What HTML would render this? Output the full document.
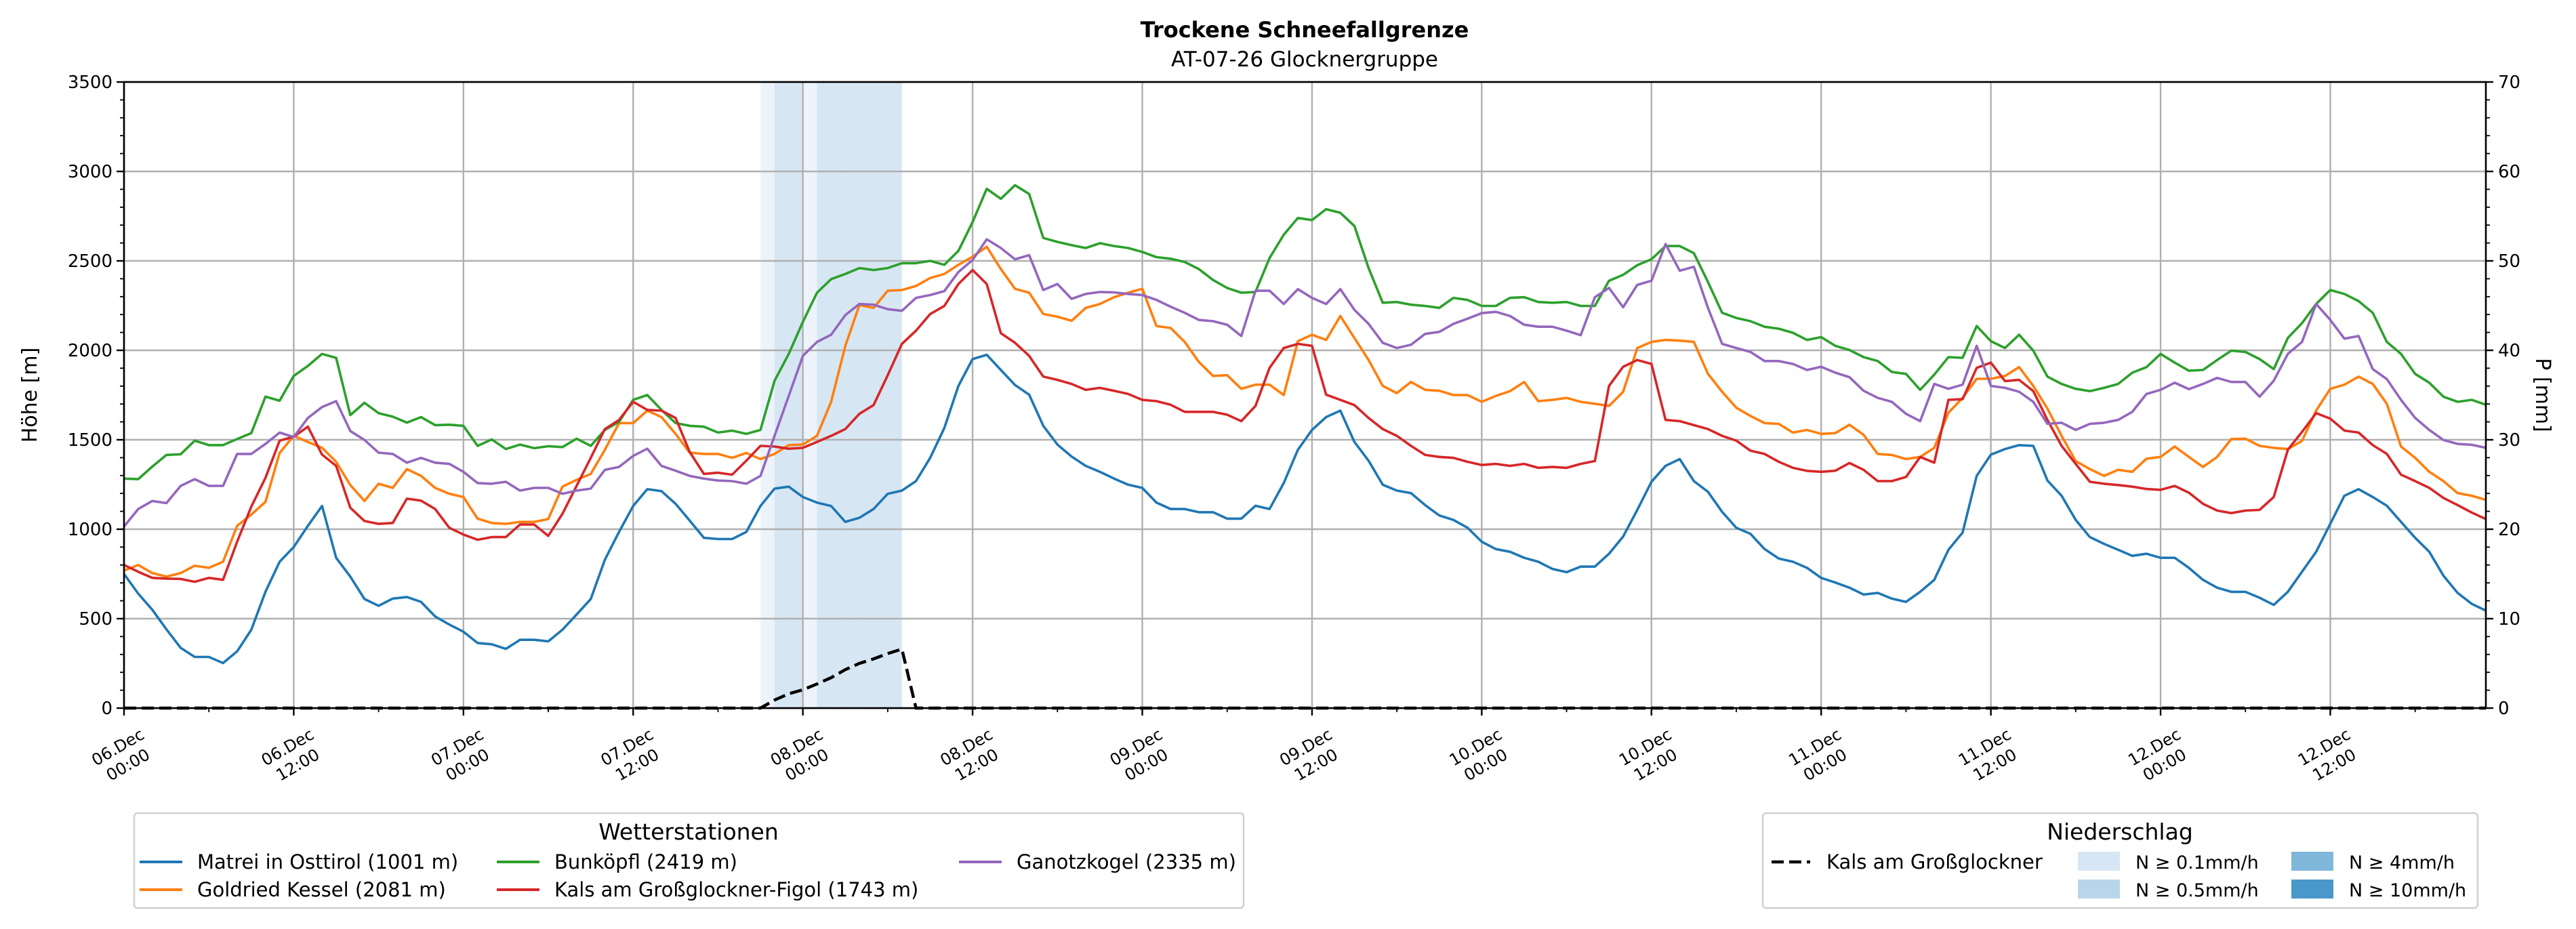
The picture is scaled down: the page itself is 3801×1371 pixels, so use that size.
<!DOCTYPE html>
<html><head><meta charset="utf-8">
<style>
body{margin:0;background:#fff;}
svg{display:block;font-family:"DejaVu Sans","Liberation Sans",sans-serif;}
</style></head>
<body>
<svg id="chart" width="3801" height="1371" viewBox="0 0 3801 1371" xmlns="http://www.w3.org/2000/svg">
<rect width="3801" height="1371" fill="#fff"/>
<text x="1925" y="55" text-anchor="middle" font-size="32" font-weight="bold">Trockene Schneefallgrenze</text>
<text x="1925" y="98" text-anchor="middle" font-size="31">AT-07-26 Glocknergruppe</text>
<g id="shade"></g><g id="grid"></g><g id="series"></g><g id="axes"></g><g id="legend"></g>
</svg>
<script>
const hours = Array.from({length:168},(_,i)=>i);
const matrei = [750,640,550,440,337,286,286,252,317,438,650,818,900,1019,1130,840,735,610,572,612,621,594,512,467,427,364,357,331,382,382,373,438,523,610,829,985,1130,1224,1213,1142,1048,952,945,945,985,1130,1227,1238,1180,1149,1130,1041,1064,1113,1198,1216,1269,1399,1566,1801,1951,1975,1890,1806,1752,1578,1473,1406,1354,1321,1283,1249,1231,1149,1113,1113,1095,1095,1059,1059,1131,1113,1258,1444,1555,1627,1663,1488,1383,1249,1216,1202,1135,1077,1052,1008,930,889,874,840,818,778,760,791,791,863,959,1108,1265,1354,1392,1269,1209,1097,1008,974,889,836,818,784,728,702,673,635,644,612,594,650,717,885,981,1298,1417,1448,1470,1466,1272,1187,1052,956,918,885,851,863,840,840,784,717,673,650,650,617,577,650,762,874,1030,1187,1224,1180,1131,1041,952,874,740,644,583,545];
const goldried = [769,800,755,735,755,796,784,818,1019,1082,1153,1426,1522,1488,1455,1377,1247,1158,1254,1231,1336,1298,1231,1198,1180,1059,1035,1030,1041,1041,1057,1238,1276,1309,1444,1593,1593,1663,1627,1533,1428,1421,1421,1399,1426,1392,1421,1470,1473,1522,1712,2025,2253,2237,2333,2337,2360,2404,2427,2478,2523,2579,2454,2344,2322,2203,2188,2165,2237,2259,2297,2322,2344,2136,2125,2047,1935,1857,1861,1785,1808,1808,1750,2051,2087,2058,2192,2069,1946,1801,1761,1823,1779,1774,1750,1750,1712,1745,1772,1823,1716,1723,1734,1712,1701,1689,1768,2013,2047,2058,2054,2047,1868,1768,1679,1633,1593,1589,1540,1555,1533,1537,1584,1528,1421,1415,1392,1404,1455,1651,1734,1841,1841,1857,1906,1801,1674,1522,1381,1336,1298,1332,1321,1394,1404,1462,1404,1348,1404,1504,1506,1466,1455,1448,1493,1663,1785,1808,1853,1812,1701,1462,1399,1321,1269,1202,1187,1164];
const bunkoepfl = [1283,1280,1350,1415,1419,1495,1470,1470,1504,1537,1741,1718,1857,1913,1980,1958,1638,1707,1649,1629,1596,1627,1582,1584,1578,1466,1502,1448,1473,1453,1464,1459,1506,1466,1555,1600,1723,1750,1667,1593,1578,1573,1540,1551,1533,1555,1830,1980,2159,2322,2398,2427,2460,2449,2460,2487,2487,2500,2478,2556,2717,2903,2847,2923,2874,2628,2606,2588,2572,2599,2583,2572,2550,2521,2512,2494,2454,2393,2349,2322,2326,2516,2646,2740,2728,2789,2769,2695,2460,2266,2270,2255,2248,2237,2293,2282,2248,2248,2293,2297,2270,2266,2270,2248,2248,2389,2422,2476,2509,2583,2583,2543,2382,2210,2181,2163,2132,2121,2098,2058,2074,2025,2002,1962,1940,1879,1868,1779,1864,1962,1958,2136,2051,2013,2087,1998,1853,1812,1785,1772,1790,1812,1875,1906,1980,1931,1886,1890,1946,1998,1991,1951,1895,2069,2152,2259,2337,2315,2275,2210,2047,1980,1868,1819,1741,1712,1723,1696];
const kalsFigol = [800,762,728,724,722,706,728,717,930,1126,1287,1495,1517,1573,1417,1354,1120,1046,1030,1035,1171,1160,1113,1008,970,941,956,956,1026,1026,963,1086,1242,1399,1560,1611,1712,1667,1663,1622,1432,1309,1316,1305,1383,1466,1462,1450,1455,1488,1522,1560,1645,1694,1861,2036,2110,2203,2248,2371,2449,2371,2096,2042,1969,1853,1835,1812,1779,1790,1774,1756,1723,1716,1696,1656,1656,1656,1640,1604,1689,1902,2013,2036,2025,1752,1723,1694,1622,1560,1522,1466,1415,1404,1399,1377,1359,1365,1354,1365,1343,1348,1343,1365,1381,1801,1908,1946,1924,1611,1604,1582,1560,1522,1495,1439,1421,1377,1343,1326,1321,1327,1370,1332,1269,1269,1292,1404,1372,1723,1727,1902,1931,1828,1835,1772,1611,1466,1365,1265,1254,1247,1238,1225,1220,1242,1204,1142,1104,1090,1104,1108,1180,1444,1544,1649,1618,1551,1540,1470,1421,1305,1269,1231,1175,1135,1093,1057];
const ganotzkogel = [1015,1113,1158,1146,1242,1280,1242,1242,1421,1421,1477,1540,1515,1622,1683,1716,1549,1499,1428,1421,1372,1399,1372,1365,1321,1258,1254,1265,1216,1231,1231,1198,1216,1227,1332,1348,1410,1450,1354,1327,1298,1283,1272,1269,1254,1298,1522,1745,1969,2047,2087,2197,2259,2255,2230,2221,2293,2309,2331,2438,2505,2621,2572,2509,2532,2337,2371,2288,2315,2326,2324,2315,2309,2282,2244,2210,2170,2163,2143,2080,2333,2333,2259,2342,2293,2259,2342,2226,2148,2042,2013,2031,2092,2103,2148,2177,2208,2215,2192,2143,2132,2132,2110,2085,2297,2349,2241,2366,2389,2594,2445,2467,2237,2036,2013,1991,1940,1940,1924,1890,1908,1875,1850,1774,1734,1712,1645,1604,1812,1785,1808,2025,1801,1790,1768,1712,1589,1595,1555,1589,1595,1611,1656,1756,1779,1819,1783,1812,1846,1823,1823,1741,1830,1980,2047,2259,2170,2065,2080,1895,1839,1723,1622,1555,1499,1477,1472,1455];
const precipHours = [45,46,47,48,49,50,51,52,53,54];
const precipRate = [0.3,0.8,0.6,0.4,0.7,0.8,0.9,0.6,0.6,0.5];
const cumHours = [45,46,47,48,49,50,51,52,53,54,55,56];
const cumValues = [0,0.9,1.6,2.05,2.7,3.4,4.3,5.0,5.5,6.1,6.6,0];
const yTicks = [0,500,1000,1500,2000,2500,3000,3500];
const pTicks = [0,10,20,30,40,50,60,70];
const xTickHours = [0,12,24,36,48,60,72,84,96,108,120,132,144,156];
const xTickLabels = [["06.Dec","00:00"],["06.Dec","12:00"],["07.Dec","00:00"],["07.Dec","12:00"],["08.Dec","00:00"],["08.Dec","12:00"],["09.Dec","00:00"],["09.Dec","12:00"],["10.Dec","00:00"],["10.Dec","12:00"],["11.Dec","00:00"],["11.Dec","12:00"],["12.Dec","00:00"],["12.Dec","12:00"]];

const L=183,R=3668,T=121,B=1045;
const x = h => L + h*(R-L)/167;
const yL = v => B - v*(B-T)/3500;
const yR = p => B - p*(B-T)/70;
const NS="http://www.w3.org/2000/svg";
function mk(tag, parent, attrs){const e=document.createElementNS(NS,tag);for(const k in attrs)e.setAttribute(k,attrs[k]);parent.appendChild(e);return e;}
const gS=document.getElementById('shade'),gG=document.getElementById('grid'),gSe=document.getElementById('series'),gA=document.getElementById('axes'),gL=document.getElementById('legend');

precipHours.forEach((h,i)=>{
  const r=precipRate[i];
  const c = r>=10?'#4a97c9':r>=4?'#7fb8da':r>=0.5?'#d7e6f3':'#edf3fa';
  const e=mk('rect',gS,{x:x(h),y:T,width:x(h+1)-x(h),height:B-T,fill:c});
  
  
});
xTickHours.forEach(h=>{const e=mk('line',gG,{x1:x(h),x2:x(h),y1:T,y2:B,stroke:'#b0b0b0','stroke-width':2.4});
  });
yTicks.forEach(v=>{const e=mk('line',gG,{x1:L,x2:R,y1:yL(v),y2:yL(v),stroke:'#b0b0b0','stroke-width':2.4});
  });

const seriesList=[[matrei,'#1f77b4','series-matrei'],[goldried,'#ff7f0e','series-goldried'],[bunkoepfl,'#2ca02c','series-bunkoepfl'],[kalsFigol,'#d62728','series-kals-figol'],[ganotzkogel,'#9467bd','series-ganotzkogel']];
seriesList.forEach(([d,c,n])=>{
  const pts=d.map((v,i)=>x(hours[i]).toFixed(1)+','+yL(v).toFixed(1)).join(' ');
  const e=mk('polyline',gSe,{points:pts,fill:'none',stroke:c,'stroke-width':3.6,'stroke-linejoin':'round'});
  
});
{
  const vals=hours.map(h=>{const k=cumHours.indexOf(h);return k>=0?cumValues[k]:0;});
  const pts=vals.map((p,i)=>x(hours[i]).toFixed(1)+','+yR(p).toFixed(1)).join(' ');
  const e=mk('polyline',gSe,{points:pts,fill:'none',stroke:'#000','stroke-width':4.5,'stroke-dasharray':'18 8'});
  
}
{const e=mk('rect',gA,{x:L,y:T,width:R-L,height:B-T,fill:'none',stroke:'#000','stroke-width':2.6});
 }
for(let v=0;v<=3500;v+=100){const major=v%500===0;mk('line',gA,{x1:L,x2:L-(major?11:6),y1:yL(v),y2:yL(v),stroke:'#000','stroke-width':major?2.4:1.8});}
yTicks.forEach(v=>{const t=mk('text',gA,{x:L-17,y:yL(v)+9,'text-anchor':'end','font-size':26});t.textContent=v;
  });
for(let p=0;p<=70;p+=2){const major=p%10===0;mk('line',gA,{x1:R,x2:R+(major?11:6),y1:yR(p),y2:yR(p),stroke:'#000','stroke-width':major?2.4:1.8});}
pTicks.forEach(p=>{const t=mk('text',gA,{x:R+18,y:yR(p)+9,'text-anchor':'start','font-size':26});t.textContent=p;
  });
for(let h=0;h<=167;h+=6){const major=h%12===0;mk('line',gA,{x1:x(h),x2:x(h),y1:B,y2:B+(major?11:6),stroke:'#000','stroke-width':major?2.4:1.8});}
xTickHours.forEach((h,i)=>{
  const g=mk('g',gA,{transform:`translate(${x(h)-2},${B+70}) rotate(-30)`});
  
  xTickLabels[i].forEach((s,j)=>{const t=mk('text',g,{x:0,y:-6+j*30,'text-anchor':'middle','font-size':24});t.textContent=s;});
});
{const t=mk('text',gA,{transform:`translate(54,${(T+B)/2}) rotate(-90)`,'text-anchor':'middle','font-size':30});t.textContent='Höhe [m]';
 }
{const t=mk('text',gA,{transform:`translate(3742,${(T+B)/2}) rotate(90)`,'text-anchor':'middle','font-size':30});t.textContent='P [mm]';
 }

function box(x0,y0,w,h,name){const e=mk('rect',gL,{x:x0,y:y0,width:w,height:h,rx:5,fill:'#fff',stroke:'#d0d0d0','stroke-width':2.5});
  }
box(198,1200,1637,140,'legend-stations');
{const t=mk('text',gL,{x:1016,y:1239,'text-anchor':'middle','font-size':33});t.textContent='Wetterstationen';
 }
const legItems=[['Matrei in Osttirol (1001 m)','#1f77b4',206,1282],['Goldried Kessel (2081 m)','#ff7f0e',206,1323],['Bunköpfl (2419 m)','#2ca02c',733,1282],['Kals am Großglockner-Figol (1743 m)','#d62728',733,1323],['Ganotzkogel (2335 m)','#9467bd',1415,1282]];
legItems.forEach(([s,c,lx,ly])=>{
  const g=mk('g',gL,{});
  mk('line',g,{x1:lx,x2:lx+63,y1:ly-10,y2:ly-10,stroke:c,'stroke-width':4});
  const t=mk('text',g,{x:lx+85,y:ly,'font-size':29});t.textContent=s;
});
box(2601,1200,1055,140,'legend-precipitation');
{const t=mk('text',gL,{x:3128,y:1239,'text-anchor':'middle','font-size':33});t.textContent='Niederschlag';
 }
{const g=mk('g',gL,{});
 mk('line',g,{x1:2614,x2:2671,y1:1272,y2:1272,stroke:'#000','stroke-width':4.5,'stroke-dasharray':'18 8'});
 const t=mk('text',g,{x:2695,y:1282,'font-size':29});t.textContent='Kals am Großglockner';}
const patchItems=[['N ≥ 0.1mm/h','#d6e6f4',3066,1282],['N ≥ 0.5mm/h','#b9d5ea',3066,1323],['N ≥ 4mm/h','#7fb8da',3381,1282],['N ≥ 10mm/h','#4a97c9',3381,1323]];
patchItems.forEach(([s,c,px,py])=>{
  const g=mk('g',gL,{});
  mk('rect',g,{x:px,y:py-25,width:62,height:28,fill:c});
  const t=mk('text',g,{x:px+85,y:py,'font-size':27});t.textContent=s;
});
</script>
</body></html>
